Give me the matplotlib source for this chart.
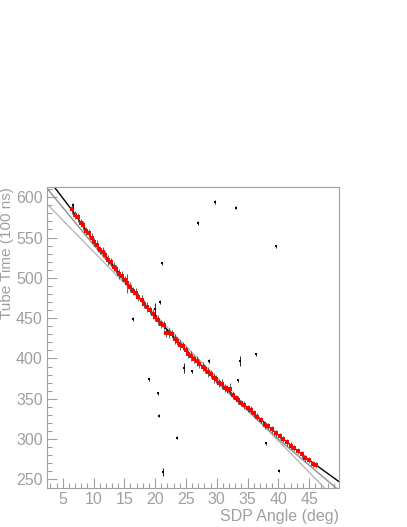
import matplotlib
matplotlib.use("Agg")
import matplotlib.pyplot as plt
from matplotlib.ticker import MultipleLocator

plt.rcParams["font.family"] = ["Liberation Sans", "DejaVu Sans"]

# points used in the fit (red)
fit_x = [6.5, 7.0, 7.4, 7.9, 8.3, 8.8, 9.2, 9.7, 10.1, 10.6, 11.0, 11.5, 11.9, 12.4,
         12.8, 13.3, 13.7, 14.2, 14.6, 15.1, 15.5, 16.0, 16.4, 16.9, 17.3, 17.8, 18.2,
         18.7, 19.1, 19.6, 20.0, 20.5, 20.9, 21.4, 21.8, 22.3, 22.7, 23.2, 23.6, 24.1,
         24.5, 25.0, 25.4, 25.9, 26.3, 26.8, 27.2, 27.7, 28.1, 28.6, 29.0, 29.5, 29.9,
         30.4, 30.8, 31.3, 31.7, 32.2, 32.6, 33.1, 33.5, 34.0, 34.5, 35.0, 35.5, 36.0,
         36.6, 37.2, 37.8, 38.4, 39.0, 39.6, 40.2, 40.8, 41.4, 42.0, 42.6, 43.2, 43.8,
         44.4, 45.0, 45.6, 46.1]
fit_y = [585, 578, 575, 568, 565, 558, 555, 549, 545, 541, 535, 532, 528, 522,
         520, 514, 511, 505, 502, 497, 493, 489, 484, 481, 476, 473, 467,
         464, 460, 455, 451, 448, 443, 441, 432, 432, 430, 424, 422, 417,
         415, 410, 406, 403, 399, 397, 393, 390, 387, 383, 381, 376, 374,
         370, 368, 363, 362, 362, 355, 351, 349, 345, 342, 338, 336, 332,
         328, 324, 318, 316, 312, 307, 304, 300, 296, 292, 289, 285, 281,
         276, 274, 269, 268]
fit_err = [6, 5, 6, 5, 6, 5, 5, 6, 5, 6, 5, 6, 5, 6,
           5, 6, 5, 6, 6, 5, 12, 6, 5, 6, 5, 6, 5,
           6, 5, 6, 5, 6, 5, 6, 5, 6, 5, 6, 5, 6,
           5, 6, 5, 6, 5, 6, 5, 6, 5, 6, 5, 6, 5,
           5, 6, 5, 5, 7, 5, 4, 5, 4, 5, 4, 5, 4,
           4, 4, 5, 4, 4, 4, 4, 4, 4, 4, 4, 4, 4,
           4, 4, 4, 4]

# rejected points (black)
out_x = [6.6, 16.35, 18.95, 20.0, 20.5, 20.67, 20.8, 21.05, 21.3, 23.54, 24.7,
         26.0, 26.9, 28.8, 29.7, 33.2, 33.5, 33.8, 36.35, 38.0, 39.6, 40.1]
out_y = [590, 449, 374, 461, 357, 329, 470, 518, 259, 302, 388,
         384, 568, 397, 594, 587, 373, 397, 405, 295, 539, 261]
out_err = [3, 2, 2, 8, 2, 2, 2, 2, 5, 2, 6,
           2, 2, 2, 2, 2, 2, 6, 2, 2, 2, 2]

# fitted curve (black) and two reference lines (gray)
curve_x = [3.6, 5.0, 6.5, 10.0, 15.0, 20.0, 25.0, 30.0, 35.0, 40.0, 45.0, 49.9]
curve_y = [613, 599, 584, 546, 498, 452, 410, 373, 339, 305, 274, 247]
lineb_x = [2.45, 10.0, 20.0, 30.0, 40.0, 49.45]
lineb_y = [611, 541, 451, 371, 300, 239]
linea_x = [2.45, 47.55]
linea_y = [591.5, 239]

grey = "#a0a0a0"
fig = plt.figure(figsize=(4.07, 5.27), dpi=100)
ax = fig.add_axes([0.1155, 0.0734, 0.7182, 0.5723])

ax.plot(linea_x, linea_y, color="#b8b8b8", lw=1.0)
ax.plot(lineb_x, lineb_y, color="#909090", lw=1.0)
ax.plot(curve_x, curve_y, color="black", lw=1.0)

ax.errorbar(fit_x, fit_y, yerr=fit_err, fmt="none", ecolor="#444444", elinewidth=0.6)
ax.plot(fit_x, fit_y, "s", color="red", ms=2.4, mew=0)
ax.errorbar(out_x, out_y, yerr=out_err, fmt="s", color="black", ms=1.8,
            elinewidth=0.6, mew=0)

ax.set_xlim(2.45, 49.9)
ax.set_ylim(239, 613)
ax.xaxis.set_major_locator(MultipleLocator(5))
ax.xaxis.set_minor_locator(MultipleLocator(1))
ax.yaxis.set_major_locator(MultipleLocator(50))
ax.yaxis.set_minor_locator(MultipleLocator(10))
ax.tick_params(which="both", direction="in", colors=grey, labelcolor=grey,
               labelsize=11.5, top=False, right=False, pad=3)
ax.tick_params(which="major", length=7, width=0.8)
ax.tick_params(which="minor", length=3.5, width=0.8)
for s in ax.spines.values():
    s.set_color(grey)

fig.text(0.833, 1 - 516 / 527, "SDP Angle (deg)", color=grey, fontsize=11.5,
         ha="right", va="center")
fig.text(7 / 407, 1 - 187 / 527, "Tube Time (100 ns)", color=grey, fontsize=11,
         rotation=90, ha="center", va="top")

plt.savefig("out.png", dpi=100)
